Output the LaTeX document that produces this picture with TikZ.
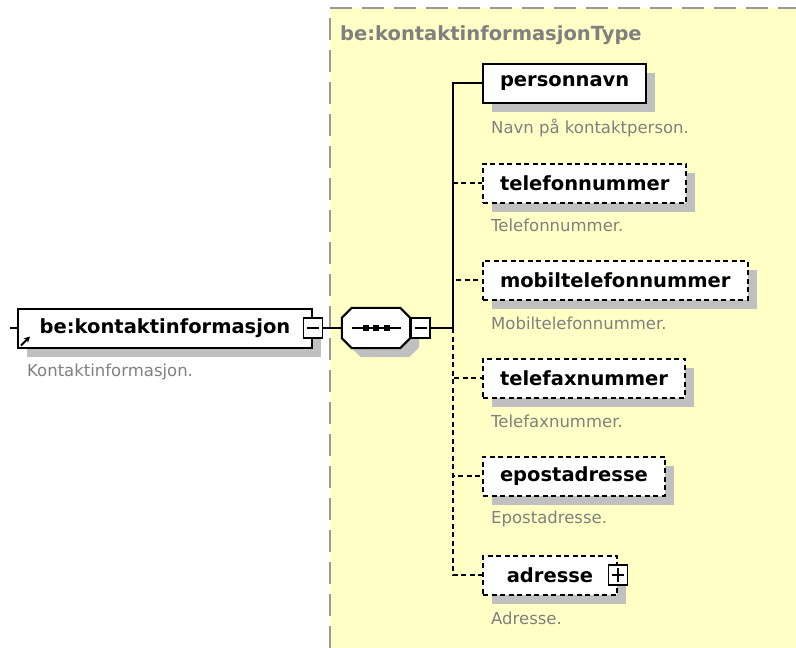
\documentclass[tikz,border=0pt]{standalone}
\usepackage{fontspec}
\setmainfont{DejaVu Sans}
\usetikzlibrary{shadows,arrows.meta}
\definecolor{typebg}{RGB}{255,255,198}
\definecolor{typeline}{RGB}{153,153,153}
\definecolor{doctext}{RGB}{128,128,128}
\definecolor{shadowgray}{RGB}{192,192,192}
\tikzset{
  boxshadow/.style={drop shadow={shadow xshift=9pt, shadow yshift=-9pt, opacity=1, fill=shadowgray}},
  elem/.style={draw, line width=2pt, fill=white, anchor=west,
    font=\bfseries\fontsize{19.5}{20}\selectfont, minimum height=39pt, inner xsep=17pt, boxshadow},
  optelem/.style={elem, dash pattern=on 5pt off 3.5pt},
  doc/.style={font=\fontsize{16.5}{18}\selectfont, text=doctext, anchor=west, inner sep=0pt},
  togglebox/.style={draw, line width=1.6pt, fill=white, minimum width=19pt, minimum height=20pt, inner sep=0pt},
  minusbox/.style={togglebox, path picture={
    \draw[line width=1.6pt] ([xshift=-6pt]path picture bounding box.center) -- ([xshift=6pt]path picture bounding box.center);}},
  plusbox/.style={togglebox, path picture={
    \draw[line width=1.6pt] ([xshift=-6pt]path picture bounding box.center) -- ([xshift=6pt]path picture bounding box.center);
    \draw[line width=1.6pt] ([yshift=-7pt]path picture bounding box.center) -- ([yshift=7pt]path picture bounding box.center);}},
  seqbox/.style={minimum width=68pt, minimum height=40pt, inner sep=0pt},
  link/.style={line width=2pt},
  optlink/.style={line width=2pt, dash pattern=on 5pt off 3.5pt},
}
\begin{document}
\begin{tikzpicture}[x=1pt,y=-1pt]
\useasboundingbox (0,0) rectangle (796,648);
% complex type
\fill[typebg] (330,8) rectangle (796,648);
\draw[typeline, line width=2pt, dash pattern=on 22pt off 10pt] (330,648) -- (330,8) -- (796,8);
\node[anchor=west, inner sep=0pt, text=doctext, font=\bfseries\fontsize{19.5}{20}\selectfont] (typename) at (340,35) {be:kontaktinformasjonType};

% element
\coordinate (start) at (10,328);
\node[elem, minimum width=294pt] (kontakt) at (17,328) {be:kontaktinformasjon};
\node[minusbox] (kontaktminus) at (kontakt.east) {};
\node[doc] (kontakt-doc) at (27,372) {Kontaktinformasjon.};
\draw[link] (start) -- (kontakt.west);
\draw[line width=2pt, -{Stealth[length=6pt,width=6pt]}] ([xshift=4pt,yshift=3pt]kontakt.south west) -- ++(9,-9);

% sequence
\node[seqbox] (seq) at (376,328) {};
\filldraw[line width=2pt, fill=white, boxshadow]
  ([xshift=10pt]seq.north west) -- ([xshift=-10pt]seq.north east) -- ([yshift=-10pt]seq.north east)
  -- ([yshift=10pt]seq.south east) -- ([xshift=-10pt]seq.south east) -- ([xshift=10pt]seq.south west)
  -- ([yshift=10pt]seq.south west) -- ([yshift=-10pt]seq.north west) -- cycle;
\draw[line width=2pt] ([xshift=-24pt]seq.center) -- ([xshift=25pt]seq.center);
\fill ([xshift=-13pt,yshift=3pt]seq.center) rectangle ++(6,6);
\fill ([xshift=-3pt,yshift=3pt]seq.center) rectangle ++(6,6);
\fill ([xshift=8pt,yshift=3pt]seq.center) rectangle ++(6,6);
\node[minusbox, anchor=west] (seqminus) at (seq.east) {};
\draw[link] (kontaktminus.east) -- (seq.west);
\coordinate (branch) at (453,328);
\draw[link] (seqminus.east) -- (branch);

% children
\node[elem] (personnavn) at (482,83) {personnavn};
\node[optelem] (telefonnummer) at (482,183) {telefonnummer};
\node[optelem] (mobiltelefonnummer) at (482,280) {mobiltelefonnummer};
\node[optelem] (telefaxnummer) at (482,378) {telefaxnummer};
\node[optelem] (epostadresse) at (482,476) {epostadresse};
\node[optelem, minimum width=134pt] (adresse) at (482,575) {adresse};
\node[plusbox] (adresseplus) at (adresse.east) {};

\node[doc] (personnavn-doc) at (491,128) {Navn på kontaktperson.};
\node[doc] (telefonnummer-doc) at (491,225) {Telefonnummer.};
\node[doc] (mobiltelefonnummer-doc) at (491,323) {Mobiltelefonnummer.};
\node[doc] (telefaxnummer-doc) at (491,421) {Telefaxnummer.};
\node[doc] (epostadresse-doc) at (491,519) {Epostadresse.};
\node[doc] (adresse-doc) at (491,618) {Adresse.};

\draw[link] (branch) |- (personnavn.west);
\draw[optlink] (branch) |- (telefonnummer.west);
\draw[optlink] (branch) |- (mobiltelefonnummer.west);
\draw[optlink] (branch) |- (telefaxnummer.west);
\draw[optlink] (branch) |- (epostadresse.west);
\draw[optlink] (branch) |- (adresse.west);
\end{tikzpicture}
\end{document}
